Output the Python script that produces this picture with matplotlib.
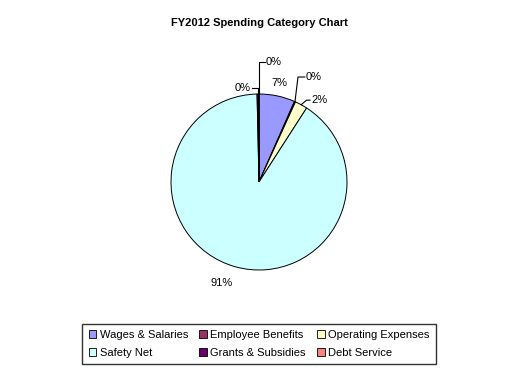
import matplotlib
matplotlib.use("Agg")
import matplotlib.pyplot as plt
import numpy as np
from matplotlib.patches import Patch

plt.rcParams['font.family'] = ['Liberation Sans', 'DejaVu Sans']

title = "FY2012 Spending Category Chart"
categories = ["Wages & Salaries", "Employee Benefits", "Operating Expenses",
              "Safety Net", "Grants & Subsidies", "Debt Service"]
values = [6.6, 0.2, 2.3, 90.55, 0.3, 0.05]
labels = ["7%", "0%", "2%", "91%", "0%", "0%"]
colors = ["#9999FF", "#993366", "#FFFFCC", "#CCFFFF", "#660066", "#FF8080"]

W, H = 520, 373
fig = plt.figure(figsize=(W / 100, H / 100), dpi=100)
fig.patch.set_facecolor("white")

cx, cy, R, half = 259, 182, 88, 130
ax = fig.add_axes([(cx - half) / W, (H - cy - half) / H, 2 * half / W, 2 * half / H])
wedges, _ = ax.pie(values, colors=colors, startangle=90, counterclock=False,
                   radius=1, wedgeprops=dict(edgecolor="black", linewidth=0.7))
lim = half / R
ax.set_xlim(-lim, lim)
ax.set_ylim(-lim, lim)
ax.set_aspect("equal")
ax.axis("off")

# mid angles (degrees clockwise from top)
cum = np.cumsum([0] + values)
total = cum[-1]
mids = [(cum[i] + cum[i + 1]) / 2 / total * 360 for i in range(len(values))]

def edge(i):
    a = np.deg2rad(mids[i])
    return np.sin(a), np.cos(a)

fs = 8
lc = dict(color="black", linewidth=0.8)

# Wages (label just outside, no leader)
a = np.deg2rad(mids[0])
ax.text(1.15 * np.sin(a), 1.15 * np.cos(a), labels[0], ha="center", va="center", fontsize=fs)
# Employee benefits
x0, y0 = edge(1)
ax.plot([x0, 0.443, 0.52], [y0, 1.193, 1.193], **lc)
ax.text(0.53, 1.193, labels[1], ha="left", va="center", fontsize=fs)
# Operating expenses
x0, y0 = edge(2)
ax.plot([x0, 0.54, 0.58], [y0, 0.93, 0.93], **lc)
ax.text(0.595, 0.93, labels[2], ha="left", va="center", fontsize=fs)
# Safety net
a = np.deg2rad(mids[3])
ax.text(1.19 * np.sin(a) - 0.1, 1.19 * np.cos(a), labels[3], ha="center", va="center", fontsize=fs)
# Grants
x0, y0 = edge(4)
ax.plot([x0, x0, -0.083], [y0, 1.068, 1.068], **lc)
ax.text(-0.1, 1.068, labels[4], ha="right", va="center", fontsize=fs)
# Debt service
x0, y0 = edge(5)
ax.plot([x0, x0, 0.068], [y0, 1.364, 1.364], **lc)
ax.text(0.08, 1.364, labels[5], ha="left", va="center", fontsize=fs)

fig.text(cx / W, 1 - 23 / H, title, ha="center", va="center", fontsize=8, fontweight="bold")

order = [0, 3, 1, 4, 2, 5]
handles = [Patch(facecolor=colors[i], edgecolor="black", linewidth=0.6, label=categories[i]) for i in order]
leg = fig.legend(handles=handles, loc="center", bbox_to_anchor=(cx / W, (H - 344) / H),
                 ncol=3, fontsize=8, frameon=True, fancybox=False, edgecolor="black",
                 handlelength=0.7, handleheight=0.7, handletextpad=0.3, columnspacing=1.0,
                 labelspacing=0.75, borderpad=0.55, borderaxespad=0)
leg.get_frame().set_linewidth(1.0)

fig.savefig("out.png", dpi=100, facecolor="white")
